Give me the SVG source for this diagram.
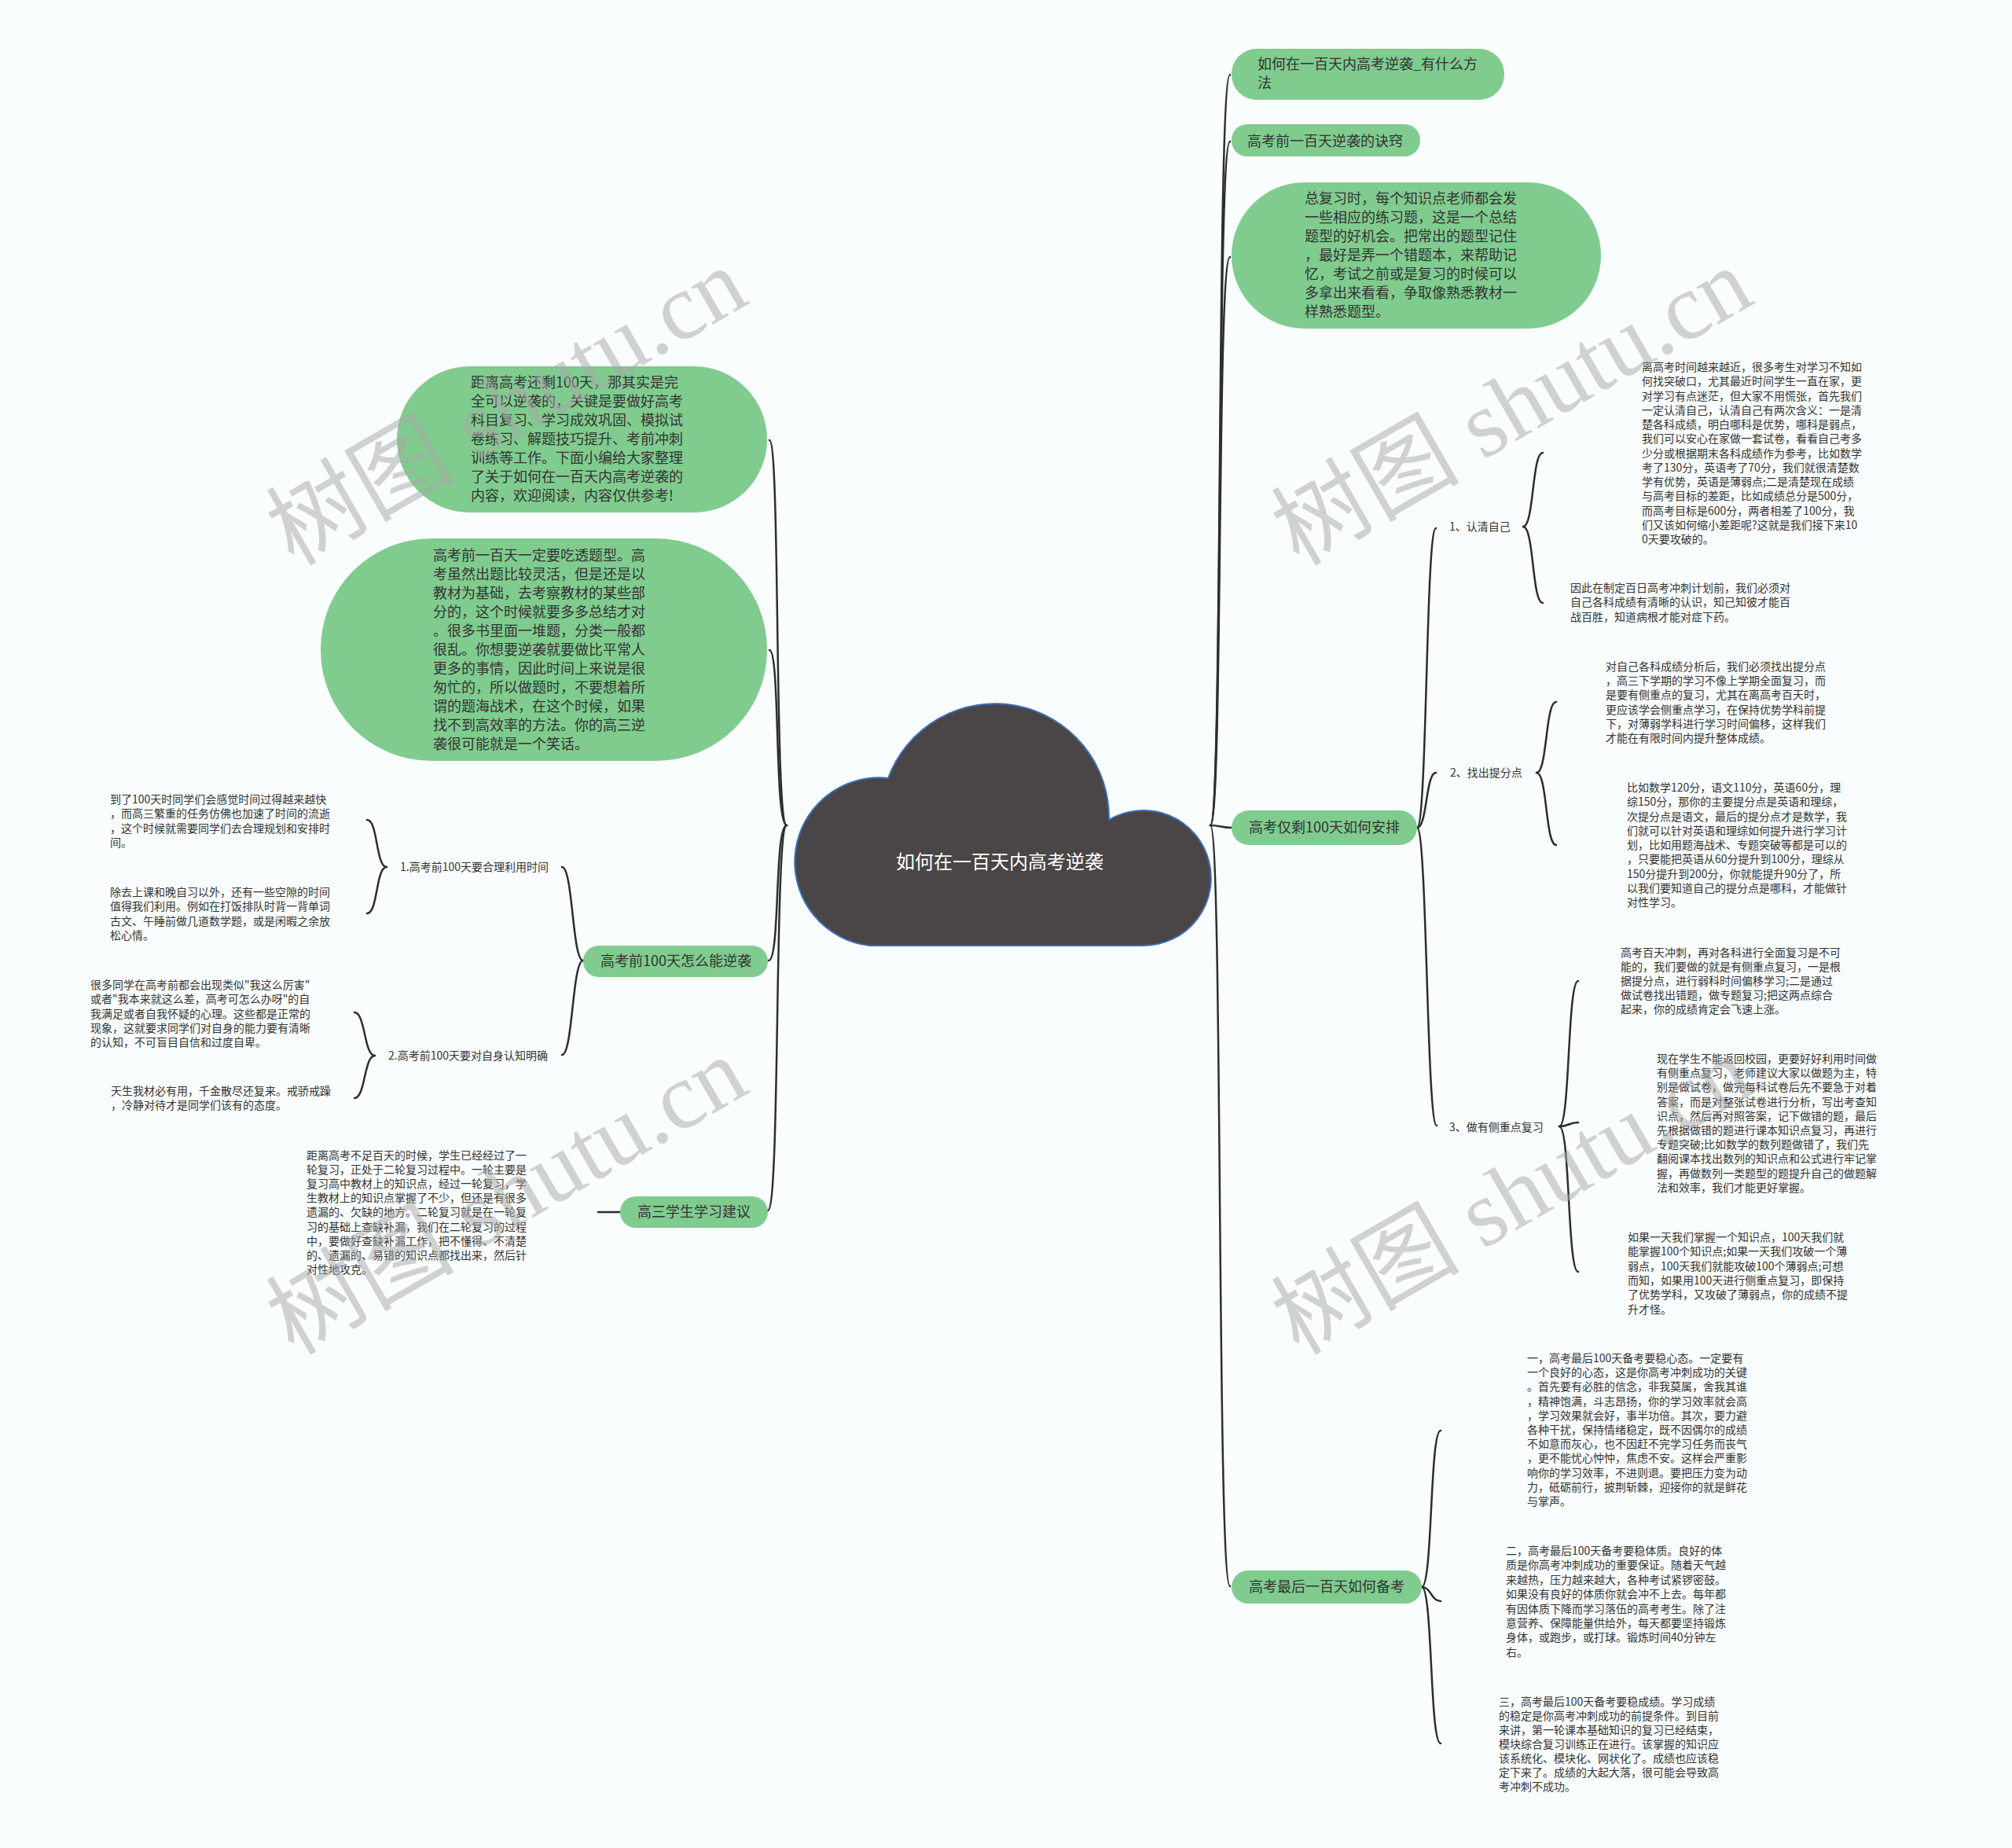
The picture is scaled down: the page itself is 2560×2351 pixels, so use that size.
<svg xmlns="http://www.w3.org/2000/svg" width="2560" height="2351" viewBox="0 0 2560 2351">
<style>
.bg{fill:#f9fdfd}
.n{fill:#80cc8f}
.t{font-family:"Noto Sans CJK SC","Noto Sans",sans-serif;fill:#333}
.s18{font-size:18px}
.s14{font-size:14px}
.c{fill:none;stroke:#2e2e2e;stroke-width:2.5;stroke-linecap:round}
.root{fill:#4a4546;stroke:#3b6fb6;stroke-width:2}
.rt{font-family:"Noto Sans CJK SC","Noto Sans",sans-serif;font-size:24px;fill:#fff}
.wm{font-family:"Liberation Serif","Noto Sans CJK SC",serif;font-size:120px;fill:#a8a8a8;opacity:.5}
</style>
<rect class="bg" x="0" y="0" width="2560" height="2351"/>

<g id="connectors">
<path class="c" d="M1540,1050 C1556,1050 1548,95 1565,95"/>
<path class="c" d="M1540,1050 C1556,1050 1548,180 1565,180"/>
<path class="c" d="M1540,1050 C1556,1050 1548,327 1565,327"/>
<path class="c" d="M1540,1050 C1552,1050 1555,1053 1567,1053"/>
<path class="c" d="M1540,1050 C1556,1050 1548,2018 1565,2018"/>
<path class="c" d="M1001,1050 C985,1050 993,560 979,560"/>
<path class="c" d="M1001,1050 C985,1050 993,827 979,827"/>
<path class="c" d="M1001,1050 C985,1050 993,1222 978,1222"/>
<path class="c" d="M1001,1050 C985,1050 993,1540 977,1540"/>
<path class="c" d="M1803,1053 C1816,1053 1814,672 1827,672"/>
<path class="c" d="M1803,1053 C1816,1053 1814,983 1827,983"/>
<path class="c" d="M1803,1053 C1816,1053 1815,1432 1828,1432"/>
<path class="c" d="M1938,670 C1952,670 1949,576 1963,576"/>
<path class="c" d="M1938,670 C1952,670 1949,767 1963,767"/>
<path class="c" d="M1955,983 C1969,983 1966,893 1980,893"/>
<path class="c" d="M1955,983 C1969,983 1966,1075 1980,1075"/>
<path class="c" d="M1984,1433 C1998,1433 1994,1248 2008,1248"/>
<path class="c" d="M1984,1433 C1996,1433 1996,1428 2008,1428"/>
<path class="c" d="M1984,1433 C1998,1433 1994,1618 2008,1618"/>
<path class="c" d="M1809,2019 C1823,2019 1819,1820 1833,1820"/>
<path class="c" d="M1809,2019 C1821,2019 1821,2037 1833,2037"/>
<path class="c" d="M1809,2019 C1823,2019 1819,2218 1833,2218"/>
<path class="c" d="M742,1222 C728,1222 729,1103 715,1103"/>
<path class="c" d="M742,1222 C728,1222 729,1342 715,1342"/>
<path class="c" d="M492,1103 C478,1103 481,1043 467,1043"/>
<path class="c" d="M492,1103 C478,1103 481,1162 467,1162"/>
<path class="c" d="M477,1343 C463,1343 465,1288 451,1288"/>
<path class="c" d="M477,1343 C463,1343 465,1397 451,1397"/>
<path class="c" d="M789,1542 L761,1542"/>
</g>

<g id="root">
<path class="root" d="M1107,1203 A106,106 0 1 1 1130,990 A145,145 0 0 1 1411,1043 A86,86 0 1 1 1455,1203 Z"/>
<text class="rt" x="1272" y="1105" text-anchor="middle">如何在一百天内高考逆袭</text>
</g>

<g id="n-method">
<rect class="n" x="1567" y="62" width="347" height="65" rx="32"/>
<text class="t s18" x="1600" y="88">如何在一百天内高考逆袭_有什么方</text>
<text class="t s18" x="1600" y="112">法</text>
</g>

<g id="n-secret">
<rect class="n" x="1567" y="158" width="240" height="41" rx="20"/>
<text class="t s18" x="1587" y="186">高考前一百天逆袭的诀窍</text>
</g>

<g id="n-review">
<rect class="n" x="1567" y="232" width="470" height="186" rx="93"/>
<text class="t s18">
<tspan x="1660" y="259">总复习时，每个知识点老师都会发</tspan>
<tspan x="1660" y="283">一些相应的练习题，这是一个总结</tspan>
<tspan x="1660" y="307">题型的好机会。把常出的题型记住</tspan>
<tspan x="1660" y="331">，最好是弄一个错题本，来帮助记</tspan>
<tspan x="1660" y="355">忆，考试之前或是复习的时候可以</tspan>
<tspan x="1660" y="379">多拿出来看看，争取像熟悉教材一</tspan>
<tspan x="1660" y="403">样熟悉题型。</tspan>
</text>
</g>

<g id="n-plan">
<rect class="n" x="1567" y="1031" width="236" height="44" rx="22"/>
<text class="t s18" x="1685" y="1059" text-anchor="middle">高考仅剩100天如何安排</text>
</g>

<g id="n-plan-1">
<text class="t s14" x="1844" y="675">1、认清自己</text>
</g>
<g id="n-plan-1a">
<text class="t s14">
<tspan x="2089" y="472">离高考时间越来越近，很多考生对学习不知如</tspan>
<tspan x="2089" y="490.25">何找突破口，尤其最近时间学生一直在家，更</tspan>
<tspan x="2089" y="508.5">对学习有点迷茫，但大家不用慌张，首先我们</tspan>
<tspan x="2089" y="526.75">一定认清自己，认清自己有两次含义：一是清</tspan>
<tspan x="2089" y="545">楚各科成绩，明白哪科是优势，哪科是弱点，</tspan>
<tspan x="2089" y="563.25">我们可以安心在家做一套试卷，看看自己考多</tspan>
<tspan x="2089" y="581.5">少分或根据期末各科成绩作为参考，比如数学</tspan>
<tspan x="2089" y="599.75">考了130分，英语考了70分，我们就很清楚数</tspan>
<tspan x="2089" y="618">学有优势，英语是薄弱点;二是清楚现在成绩</tspan>
<tspan x="2089" y="636.25">与高考目标的差距，比如成绩总分是500分，</tspan>
<tspan x="2089" y="654.5">而高考目标是600分，两者相差了100分，我</tspan>
<tspan x="2089" y="672.75">们又该如何缩小差距呢?这就是我们接下来10</tspan>
<tspan x="2089" y="691">0天要攻破的。</tspan>
</text>
</g>
<g id="n-plan-1b">
<text class="t s14">
<tspan x="1998" y="753">因此在制定百日高考冲刺计划前，我们必须对</tspan>
<tspan x="1998" y="771.3">自己各科成绩有清晰的认识，知己知彼才能百</tspan>
<tspan x="1998" y="789.6">战百胜，知道病根才能对症下药。</tspan>
</text>
</g>

<g id="n-plan-2">
<text class="t s14" x="1845" y="988">2、找出提分点</text>
</g>
<g id="n-plan-2a">
<text class="t s14">
<tspan x="2043" y="853">对自己各科成绩分析后，我们必须找出提分点</tspan>
<tspan x="2043" y="871.2">，高三下学期的学习不像上学期全面复习，而</tspan>
<tspan x="2043" y="889.4">是要有侧重点的复习，尤其在离高考百天时，</tspan>
<tspan x="2043" y="907.6">更应该学会侧重点学习，在保持优势学科前提</tspan>
<tspan x="2043" y="925.8">下，对薄弱学科进行学习时间偏移，这样我们</tspan>
<tspan x="2043" y="944">才能在有限时间内提升整体成绩。</tspan>
</text>
</g>
<g id="n-plan-2b">
<text class="t s14">
<tspan x="2070" y="1007">比如数学120分，语文110分，英语60分，理</tspan>
<tspan x="2070" y="1025.25">综150分，那你的主要提分点是英语和理综，</tspan>
<tspan x="2070" y="1043.5">次提分点是语文，最后的提分点才是数学，我</tspan>
<tspan x="2070" y="1061.75">们就可以针对英语和理综如何提升进行学习计</tspan>
<tspan x="2070" y="1080">划，比如用题海战术、专题突破等都是可以的</tspan>
<tspan x="2070" y="1098.25">，只要能把英语从60分提升到100分，理综从</tspan>
<tspan x="2070" y="1116.5">150分提升到200分，你就能提升90分了，所</tspan>
<tspan x="2070" y="1134.75">以我们要知道自己的提分点是哪科，才能做针</tspan>
<tspan x="2070" y="1153">对性学习。</tspan>
</text>
</g>

<g id="n-plan-3">
<text class="t s14" x="1844" y="1439">3、做有侧重点复习</text>
</g>
<g id="n-plan-3a">
<text class="t s14">
<tspan x="2062" y="1217">高考百天冲刺，再对各科进行全面复习是不可</tspan>
<tspan x="2062" y="1235.1">能的，我们要做的就是有侧重点复习，一是根</tspan>
<tspan x="2062" y="1253.2">据提分点，进行弱科时间偏移学习;二是通过</tspan>
<tspan x="2062" y="1271.3">做试卷找出错题，做专题复习;把这两点综合</tspan>
<tspan x="2062" y="1289.4">起来，你的成绩肯定会飞速上涨。</tspan>
</text>
</g>
<g id="n-plan-3b">
<text class="t s14">
<tspan x="2108" y="1352">现在学生不能返回校园，更要好好利用时间做</tspan>
<tspan x="2108" y="1370.2">有侧重点复习，老师建议大家以做题为主，特</tspan>
<tspan x="2108" y="1388.4">别是做试卷，做完每科试卷后先不要急于对着</tspan>
<tspan x="2108" y="1406.6">答案，而是对整张试卷进行分析，写出考查知</tspan>
<tspan x="2108" y="1424.8">识点，然后再对照答案，记下做错的题，最后</tspan>
<tspan x="2108" y="1443">先根据做错的题进行课本知识点复习，再进行</tspan>
<tspan x="2108" y="1461.2">专题突破;比如数学的数列题做错了，我们先</tspan>
<tspan x="2108" y="1479.4">翻阅课本找出数列的知识点和公式进行牢记掌</tspan>
<tspan x="2108" y="1497.6">握，再做数列一类题型的题提升自己的做题解</tspan>
<tspan x="2108" y="1515.8">法和效率，我们才能更好掌握。</tspan>
</text>
</g>
<g id="n-plan-3c">
<text class="t s14">
<tspan x="2071" y="1579">如果一天我们掌握一个知识点，100天我们就</tspan>
<tspan x="2071" y="1597.3">能掌握100个知识点;如果一天我们攻破一个薄</tspan>
<tspan x="2071" y="1615.6">弱点，100天我们就能攻破100个薄弱点;可想</tspan>
<tspan x="2071" y="1633.9">而知，如果用100天进行侧重点复习，即保持</tspan>
<tspan x="2071" y="1652.2">了优势学科，又攻破了薄弱点，你的成绩不提</tspan>
<tspan x="2071" y="1670.5">升才怪。</tspan>
</text>
</g>

<g id="n-last">
<rect class="n" x="1567" y="1998" width="242" height="42" rx="21"/>
<text class="t s18" x="1688" y="2025" text-anchor="middle">高考最后一百天如何备考</text>
</g>
<g id="n-last-1">
<text class="t s14">
<tspan x="1943" y="1733">一，高考最后100天备考要稳心态。一定要有</tspan>
<tspan x="1943" y="1751.2">一个良好的心态，这是你高考冲刺成功的关键</tspan>
<tspan x="1943" y="1769.4">。首先要有必胜的信念，非我莫属，舍我其谁</tspan>
<tspan x="1943" y="1787.6">，精神饱满，斗志昂扬，你的学习效率就会高</tspan>
<tspan x="1943" y="1805.8">，学习效果就会好，事半功倍。其次，要力避</tspan>
<tspan x="1943" y="1824">各种干扰，保持情绪稳定，既不因偶尔的成绩</tspan>
<tspan x="1943" y="1842.2">不如意而灰心，也不因赶不完学习任务而丧气</tspan>
<tspan x="1943" y="1860.4">，更不能忧心忡忡，焦虑不安。这样会严重影</tspan>
<tspan x="1943" y="1878.6">响你的学习效率，不进则退。要把压力变为动</tspan>
<tspan x="1943" y="1896.8">力，砥砺前行，披荆斩棘，迎接你的就是鲜花</tspan>
<tspan x="1943" y="1915">与掌声。</tspan>
</text>
</g>
<g id="n-last-2">
<text class="t s14">
<tspan x="1916" y="1978">二，高考最后100天备考要稳体质。良好的体</tspan>
<tspan x="1916" y="1996.4">质是你高考冲刺成功的重要保证。随着天气越</tspan>
<tspan x="1916" y="2014.8">来越热，压力越来越大，各种考试紧锣密鼓。</tspan>
<tspan x="1916" y="2033.2">如果没有良好的体质你就会冲不上去。每年都</tspan>
<tspan x="1916" y="2051.6">有因体质下降而学习落伍的高考考生。除了注</tspan>
<tspan x="1916" y="2070">意营养、保障能量供给外，每天都要坚持锻炼</tspan>
<tspan x="1916" y="2088.4">身体，或跑步，或打球。锻炼时间40分钟左</tspan>
<tspan x="1916" y="2106.8">右。</tspan>
</text>
</g>
<g id="n-last-3">
<text class="t s14">
<tspan x="1907" y="2170">三，高考最后100天备考要稳成绩。学习成绩</tspan>
<tspan x="1907" y="2188">的稳定是你高考冲刺成功的前提条件。到目前</tspan>
<tspan x="1907" y="2206">来讲，第一轮课本基础知识的复习已经结束，</tspan>
<tspan x="1907" y="2224">模块综合复习训练正在进行。该掌握的知识应</tspan>
<tspan x="1907" y="2242">该系统化、模块化、网状化了。成绩也应该稳</tspan>
<tspan x="1907" y="2260">定下来了。成绩的大起大落，很可能会导致高</tspan>
<tspan x="1907" y="2278">考冲刺不成功。</tspan>
</text>
</g>

<g id="n-intro">
<rect class="n" x="505" y="466" width="471" height="186" rx="93"/>
<text class="t s18">
<tspan x="599" y="493">距离高考还剩100天，那其实是完</tspan>
<tspan x="599" y="517">全可以逆袭的，关键是要做好高考</tspan>
<tspan x="599" y="541">科目复习、学习成效巩固、模拟试</tspan>
<tspan x="599" y="565">卷练习、解题技巧提升、考前冲刺</tspan>
<tspan x="599" y="589">训练等工作。下面小编给大家整理</tspan>
<tspan x="599" y="613">了关于如何在一百天内高考逆袭的</tspan>
<tspan x="599" y="637">内容，欢迎阅读，内容仅供参考!</tspan>
</text>
</g>

<g id="n-types">
<rect class="n" x="408" y="685" width="568" height="283" rx="141"/>
<text class="t s18">
<tspan x="551" y="713">高考前一百天一定要吃透题型。高</tspan>
<tspan x="551" y="737">考虽然出题比较灵活，但是还是以</tspan>
<tspan x="551" y="761">教材为基础，去考察教材的某些部</tspan>
<tspan x="551" y="785">分的，这个时候就要多多总结才对</tspan>
<tspan x="551" y="809">。很多书里面一堆题，分类一般都</tspan>
<tspan x="551" y="833">很乱。你想要逆袭就要做比平常人</tspan>
<tspan x="551" y="857">更多的事情，因此时间上来说是很</tspan>
<tspan x="551" y="881">匆忙的，所以做题时，不要想着所</tspan>
<tspan x="551" y="905">谓的题海战术，在这个时候，如果</tspan>
<tspan x="551" y="929">找不到高效率的方法。你的高三逆</tspan>
<tspan x="551" y="953">袭很可能就是一个笑话。</tspan>
</text>
</g>

<g id="n-how">
<rect class="n" x="742" y="1203" width="235" height="40" rx="20"/>
<text class="t s18" x="860" y="1229" text-anchor="middle">高考前100天怎么能逆袭</text>
</g>
<g id="n-how-1">
<text class="t s14" x="509" y="1108">1.高考前100天要合理利用时间</text>
</g>
<g id="n-how-1a">
<text class="t s14">
<tspan x="140" y="1022">到了100天时同学们会感觉时间过得越来越快</tspan>
<tspan x="140" y="1040.3">，而高三繁重的任务仿佛也加速了时间的流逝</tspan>
<tspan x="140" y="1058.6">，这个时候就需要同学们去合理规划和安排时</tspan>
<tspan x="140" y="1076.9">间。</tspan>
</text>
</g>
<g id="n-how-1b">
<text class="t s14">
<tspan x="140" y="1140">除去上课和晚自习以外，还有一些空隙的时间</tspan>
<tspan x="140" y="1158.3">值得我们利用。例如在打饭排队时背一背单词</tspan>
<tspan x="140" y="1176.6">古文、午睡前做几道数学题，或是闲暇之余放</tspan>
<tspan x="140" y="1194.9">松心情。</tspan>
</text>
</g>
<g id="n-how-2">
<text class="t s14" x="494" y="1348">2.高考前100天要对自身认知明确</text>
</g>
<g id="n-how-2a">
<text class="t s14">
<tspan x="115" y="1258">很多同学在高考前都会出现类似"我这么厉害"</tspan>
<tspan x="115" y="1276.25">或者"我本来就这么差，高考可怎么办呀"的自</tspan>
<tspan x="115" y="1294.5">我满足或者自我怀疑的心理。这些都是正常的</tspan>
<tspan x="115" y="1312.75">现象，这就要求同学们对自身的能力要有清晰</tspan>
<tspan x="115" y="1331">的认知，不可盲目自信和过度自卑。</tspan>
</text>
</g>
<g id="n-how-2b">
<text class="t s14">
<tspan x="141" y="1393">天生我材必有用，千金散尽还复来。戒骄戒躁</tspan>
<tspan x="141" y="1411.3">，冷静对待才是同学们该有的态度。</tspan>
</text>
</g>

<g id="n-advice">
<rect class="n" x="789" y="1522" width="188" height="40" rx="20"/>
<text class="t s18" x="883" y="1548" text-anchor="middle">高三学生学习建议</text>
</g>
<g id="n-advice-1">
<text class="t s14">
<tspan x="390" y="1475">距离高考不足百天的时候，学生已经经过了一</tspan>
<tspan x="390" y="1493.1">轮复习，正处于二轮复习过程中。一轮主要是</tspan>
<tspan x="390" y="1511.2">复习高中教材上的知识点，经过一轮复习，学</tspan>
<tspan x="390" y="1529.3">生教材上的知识点掌握了不少，但还是有很多</tspan>
<tspan x="390" y="1547.4">遗漏的、欠缺的地方。二轮复习就是在一轮复</tspan>
<tspan x="390" y="1565.5">习的基础上查缺补漏，我们在二轮复习的过程</tspan>
<tspan x="390" y="1583.6">中，要做好查缺补漏工作，把不懂得、不清楚</tspan>
<tspan x="390" y="1601.7">的、遗漏的、易错的知识点都找出来，然后针</tspan>
<tspan x="390" y="1619.8">对性地攻克。</tspan>
</text>
</g>

<g id="watermarks">
<text class="wm" transform="translate(645,518) rotate(-30)" x="0" y="40" text-anchor="middle">树图 shutu.cn</text>
<text class="wm" transform="translate(1924,518) rotate(-30)" x="0" y="40" text-anchor="middle">树图 shutu.cn</text>
<text class="wm" transform="translate(645,1522) rotate(-30)" x="0" y="40" text-anchor="middle">树图 shutu.cn</text>
<text class="wm" transform="translate(1924,1522) rotate(-30)" x="0" y="40" text-anchor="middle">树图 shutu.cn</text>
<text class="wm" transform="translate(645,2526) rotate(-30)" x="0" y="40" text-anchor="middle">树图 shutu.cn</text>
<text class="wm" transform="translate(1924,2526) rotate(-30)" x="0" y="40" text-anchor="middle">树图 shutu.cn</text>
</g>
</svg>
